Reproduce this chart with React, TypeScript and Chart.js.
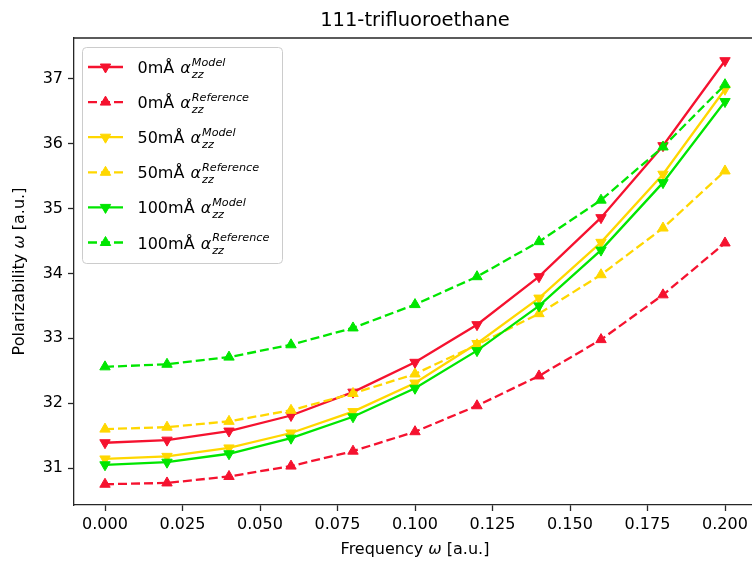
import React, { useEffect, useRef } from 'react';
import { Chart, registerables } from 'chart.js';

Chart.register(...registerables);

const chartTitle = '111-trifluoroethane';
const xAxisLabel = ['Frequency ', 'ω', ' [a.u.]'];
const yAxisLabel = ['Polarizability ', 'ω', ' [a.u.]'];

const frequency = [0, 0.02, 0.04, 0.06, 0.08, 0.1, 0.12, 0.14, 0.16, 0.18, 0.2];

const model0 = [31.39, 31.43, 31.57, 31.81, 32.17, 32.63, 33.21, 33.95, 34.86, 35.97, 37.28];
const reference0 = [30.75, 30.77, 30.87, 31.03, 31.26, 31.56, 31.96, 32.42, 32.98, 33.67, 34.47];
const model50 = [31.14, 31.18, 31.31, 31.54, 31.87, 32.31, 32.92, 33.62, 34.48, 35.53, 36.84];
const reference50 = [31.6, 31.63, 31.72, 31.89, 32.15, 32.45, 32.9, 33.38, 33.98, 34.7, 35.58];
const model100 = [31.05, 31.09, 31.22, 31.46, 31.79, 32.23, 32.81, 33.5, 34.36, 35.4, 36.65];
const reference100 = [32.56, 32.6, 32.71, 32.9, 33.16, 33.52, 33.95, 34.49, 35.13, 35.95, 36.91];

const seriesPrefixes = ['0mÅ', '0mÅ', '50mÅ', '50mÅ', '100mÅ', '100mÅ'];
const seriesKinds = ['Model', 'Reference', 'Model', 'Reference', 'Model', 'Reference'];
const seriesValues = [model0, reference0, model50, reference50, model100, reference100];

const xTicks = [0, 0.025, 0.05, 0.075, 0.1, 0.125, 0.15, 0.175, 0.2];
const yTicks = [31, 32, 33, 34, 35, 36, 37];

const X_MIN = -0.01;
const X_MAX = 0.21;
const Y_MIN = 30.43;
const Y_MAX = 37.63;

const FONT = 'DejaVu Sans';
const RED = '#f5122f';
const YELLOW = '#ffd700';
const GREEN = '#00e600';
const seriesColors = [RED, RED, YELLOW, YELLOW, GREEN, GREEN];
const FRAME = '#262626';

function drawMixed(ctx: CanvasRenderingContext2D, parts: string[], cx: number, cy: number, size: number) {
  const fonts = parts.map((_, i) => (i === 1 ? `italic ${size}px "${FONT}"` : `${size}px "${FONT}"`));
  let total = 0;
  const widths = parts.map((p, i) => {
    ctx.font = fonts[i];
    const w = ctx.measureText(p).width;
    total += w;
    return w;
  });
  let x = cx - total / 2;
  ctx.textAlign = 'left';
  ctx.textBaseline = 'middle';
  parts.forEach((p, i) => {
    ctx.font = fonts[i];
    ctx.fillText(p, x, cy);
    x += widths[i];
  });
}

function triangle(ctx: CanvasRenderingContext2D, x: number, y: number, r: number, down: boolean) {
  let rad = down ? Math.PI : 0;
  ctx.beginPath();
  for (let k = 0; k < 3; k++) {
    const px = x + Math.sin(rad) * r;
    const py = y - Math.cos(rad) * r;
    if (k === 0) ctx.moveTo(px, py);
    else ctx.lineTo(px, py);
    rad += (2 * Math.PI) / 3;
  }
  ctx.closePath();
}

const decorPlugin = {
  id: 'decor',
  afterDraw(chart: any) {
    const ctx: CanvasRenderingContext2D = chart.ctx;
    const a = chart.chartArea;
    ctx.save();
    // top/right frame
    ctx.strokeStyle = FRAME;
    ctx.lineWidth = 1.3;
    ctx.setLineDash([]);
    ctx.beginPath();
    ctx.moveTo(a.left, a.top);
    ctx.lineTo(a.right, a.top);
    ctx.lineTo(a.right, a.bottom);
    ctx.stroke();

    ctx.fillStyle = '#000';
    // title
    ctx.font = `19.5px "${FONT}"`;
    ctx.textAlign = 'center';
    ctx.textBaseline = 'middle';
    ctx.fillText(chartTitle, (a.left + a.right) / 2, 21);

    // axis labels
    drawMixed(ctx, xAxisLabel, (a.left + a.right) / 2, 550, 16);
    ctx.save();
    ctx.translate(20, (a.top + a.bottom) / 2);
    ctx.rotate(-Math.PI / 2);
    drawMixed(ctx, yAxisLabel, 0, 0, 16);
    ctx.restore();

    // legend
    const bx = 82.5, by = 47.5, bw = 200, bh = 216;
    ctx.beginPath();
    (ctx as any).roundRect(bx, by, bw, bh, 4);
    ctx.fillStyle = 'rgba(255,255,255,0.8)';
    ctx.fill();
    ctx.strokeStyle = '#cccccc';
    ctx.lineWidth = 1;
    ctx.stroke();

    for (let i = 0; i < seriesPrefixes.length; i++) {
      const cy = 67 + i * 35.1;
      const color = seriesColors[i];
      const dashed = seriesKinds[i] === 'Reference';
      ctx.strokeStyle = color;
      ctx.lineWidth = 2.3;
      ctx.setLineDash(dashed ? [9, 4] : []);
      ctx.beginPath();
      ctx.moveTo(88, cy);
      ctx.lineTo(123, cy);
      ctx.stroke();
      ctx.setLineDash([]);
      ctx.fillStyle = color;
      ctx.lineWidth = 1;
      triangle(ctx, 105.5, cy, 6, !dashed);
      ctx.fill();
      ctx.stroke();

      ctx.fillStyle = '#000';
      ctx.textAlign = 'left';
      ctx.textBaseline = 'alphabetic';
      let x = 137.5;
      ctx.font = `16px "${FONT}"`;
      const pre = seriesPrefixes[i] + ' ';
      ctx.fillText(pre, x, cy + 6);
      x += ctx.measureText(pre).width + 1;
      ctx.font = `italic 16px "${FONT}"`;
      ctx.fillText('α', x, cy + 6);
      x += ctx.measureText('α').width + 1;
      ctx.font = `italic 11.2px "${FONT}"`;
      ctx.fillText(seriesKinds[i], x, cy - 1.3);
      ctx.fillText('zz', x, cy + 11);
    }
    ctx.restore();
  },
};

export default function App() {
  const ref = useRef<HTMLCanvasElement | null>(null);

  useEffect(() => {
    if (!ref.current) return;
    const datasets = seriesValues.map((vals, i) => {
      const dashed = seriesKinds[i] === 'Reference';
      return {
        label: seriesPrefixes[i] + ' ' + seriesKinds[i],
        data: frequency.map((f, j) => ({ x: f, y: vals[j] })),
        borderColor: seriesColors[i],
        backgroundColor: seriesColors[i],
        borderWidth: 2.3,
        borderDash: dashed ? [9, 4] : [],
        pointStyle: 'triangle',
        pointRotation: dashed ? 0 : 180,
        pointRadius: 6,
        pointBorderWidth: 1,
        pointBackgroundColor: seriesColors[i],
        pointBorderColor: seriesColors[i],
        tension: 0,
        fill: false,
        order: seriesValues.length - 1 - i,
      };
    });

    const chart = new Chart(ref.current, {
      type: 'line',
      data: { datasets },
      plugins: [decorPlugin],
      options: {
        animation: false,
        responsive: false,
        devicePixelRatio: 1,
        layout: { padding: { top: 38, right: 14, left: 0, bottom: 0 } },
        plugins: {
          legend: { display: false },
          title: { display: false },
          tooltip: { enabled: false },
        },
        scales: {
          x: {
            type: 'linear',
            min: X_MIN,
            max: X_MAX,
            afterBuildTicks: (s: any) => {
              s.ticks = xTicks.map((v) => ({ value: v }));
            },
            afterFit: (s: any) => {
              s.height = 56;
            },
            ticks: {
              callback: (v: any) => Number(v).toFixed(3),
              color: '#000',
              font: { family: FONT, size: 16 },
              padding: 4,
              maxRotation: 0,
              autoSkip: false,
            },
            grid: {
              drawOnChartArea: false,
              drawTicks: true,
              tickLength: 6,
              tickColor: FRAME,
              tickWidth: 1.3,
            },
            border: { display: true, color: FRAME, width: 1.3 },
          },
          y: {
            type: 'linear',
            min: Y_MIN,
            max: Y_MAX,
            afterBuildTicks: (s: any) => {
              s.ticks = yTicks.map((v) => ({ value: v }));
            },
            afterFit: (s: any) => {
              s.width = 74;
            },
            ticks: {
              callback: (v: any) => String(v),
              color: '#000',
              font: { family: FONT, size: 16 },
              padding: 5,
              autoSkip: false,
            },
            grid: {
              drawOnChartArea: false,
              drawTicks: true,
              tickLength: 6,
              tickColor: FRAME,
              tickWidth: 1.3,
            },
            border: { display: true, color: FRAME, width: 1.3 },
          },
        },
      } as any,
    });
    return () => chart.destroy();
  }, []);

  return (
    <div style={{ position: 'fixed', left: 0, top: 0, width: 770, height: 561, background: '#fff' }}>
      <canvas ref={ref} width={770} height={561} style={{ width: 770, height: 561, display: 'block' }} />
    </div>
  );
}
